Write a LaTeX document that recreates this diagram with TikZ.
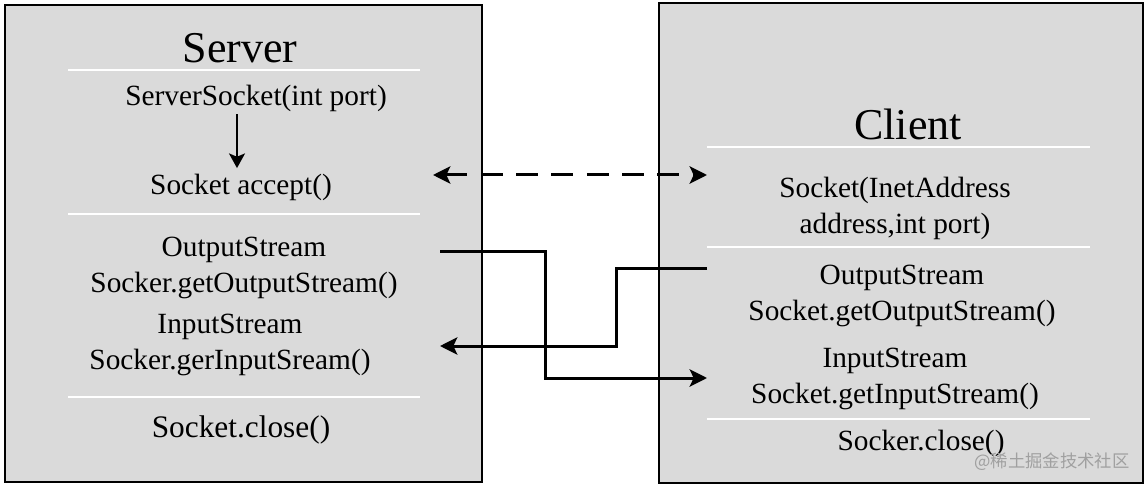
\documentclass[tikz,border=0pt]{standalone}
\usepackage{fontspec}
\setmainfont{Liberation Serif}
\newfontfamily\cjkfont{Noto Sans CJK SC}
\usetikzlibrary{arrows.meta}
\definecolor{ink}{HTML}{000000}
\definecolor{panelgrey}{HTML}{DADADA}
\definecolor{rulewhite}{HTML}{FFFFFF}
\definecolor{marktx}{HTML}{A0A0A0}
\tikzset{
  sidebox/.style={draw=ink,line width=1.5pt,fill=panelgrey},
  sep/.style={draw=rulewhite,line width=1.6pt},
  ttl/.style={inner sep=0pt,text=ink,font=\fontsize{33}{36}\selectfont},
  lbl/.style={inner sep=0pt,align=center,text=ink,font=\fontsize{22}{27}\selectfont},
  downarr/.style={-{Stealth[length=11pt,width=12pt,inset=2.5pt]},line width=1.5pt,draw=ink},
  link/.style={-{Stealth[length=13pt,width=13pt,inset=3pt]},line width=2.25pt,draw=ink},
  dashlink/.style={{Stealth[length=13pt,width=13pt,inset=3pt]}-{Stealth[length=13pt,width=13pt,inset=3pt]},
                   line width=2.25pt,draw=ink,dash pattern=on 16.5pt off 10pt},
}

\begin{document}
\begin{tikzpicture}[x=0.75pt,y=-0.75pt]
  \useasboundingbox (0,0) rectangle (1148,488);

  % ---------------------------------------------------------------- server
  \node[sidebox,minimum width=357.75pt,minimum height=357.75pt] (server) at (243.5,243.5) {};
  \foreach \y in {70,214,397}
    \draw[sep] (68,\y) -- (420,\y);
  \node[ttl] (srvtitle) at (240,48) {Server};
  \node[lbl] (ss) at (256,98) {ServerSocket(int port)};
  \node[lbl] (acc) at (241,187) {Socket accept()};
  \node[lbl] (sout) at (244,268) {OutputStream\\Socker.getOutputStream()};
  \node[lbl] (sin) at (230,345) {InputStream\\Socker.gerInputSream()};
  \node[lbl,font=\fontsize{23.5}{27}\selectfont] (sclose) at (241,430) {Socket.close()};
  \draw[downarr,shorten <=2pt,shorten >=4pt] ([xshift=-3pt]ss.south -| acc.north) -- ([xshift=-3pt]acc.north);

  % ---------------------------------------------------------------- client
  \node[sidebox,minimum width=363pt,minimum height=359.25pt] (client) at (901,243) {};
  \foreach \y in {147,247,419}
    \draw[sep] (707,\y) -- (1090,\y);
  \node[ttl] (clititle) at (908,124) {Client};
  \node[lbl] (csock) at (895,208) {Socket(InetAddress\\address,int port)};
  \node[lbl] (cout) at (902,296) {OutputStream\\Socket.getOutputStream()};
  \node[lbl] (cin) at (895,379) {InputStream\\Socket.getInputStream()};
  \node[lbl] (cclose) at (921,443) {Socker.close()};
  \node[inner sep=0pt,text=marktx,font=\cjkfont\fontsize{13}{13}\selectfont] (mark) at (1052,462) {@稀土掘金技术社区};

  % ---------------------------------------------------------------- links
  \coordinate (dashL) at (433,175);
  \coordinate (dashR) at (707,175);
  \coordinate (sOutEnd) at (440,251);
  \coordinate (cInEnd) at (707,378);
  \coordinate (cOutEnd) at (707,268);
  \coordinate (sInEnd) at (440,346);
  \draw[dashlink] (dashL) -- (dashR);
  \draw[link] (sOutEnd) -- ++(105,0) |- (cInEnd);
  \draw[link] (cOutEnd) -- ++(-91,0) |- (sInEnd);
\end{tikzpicture}
\end{document}
